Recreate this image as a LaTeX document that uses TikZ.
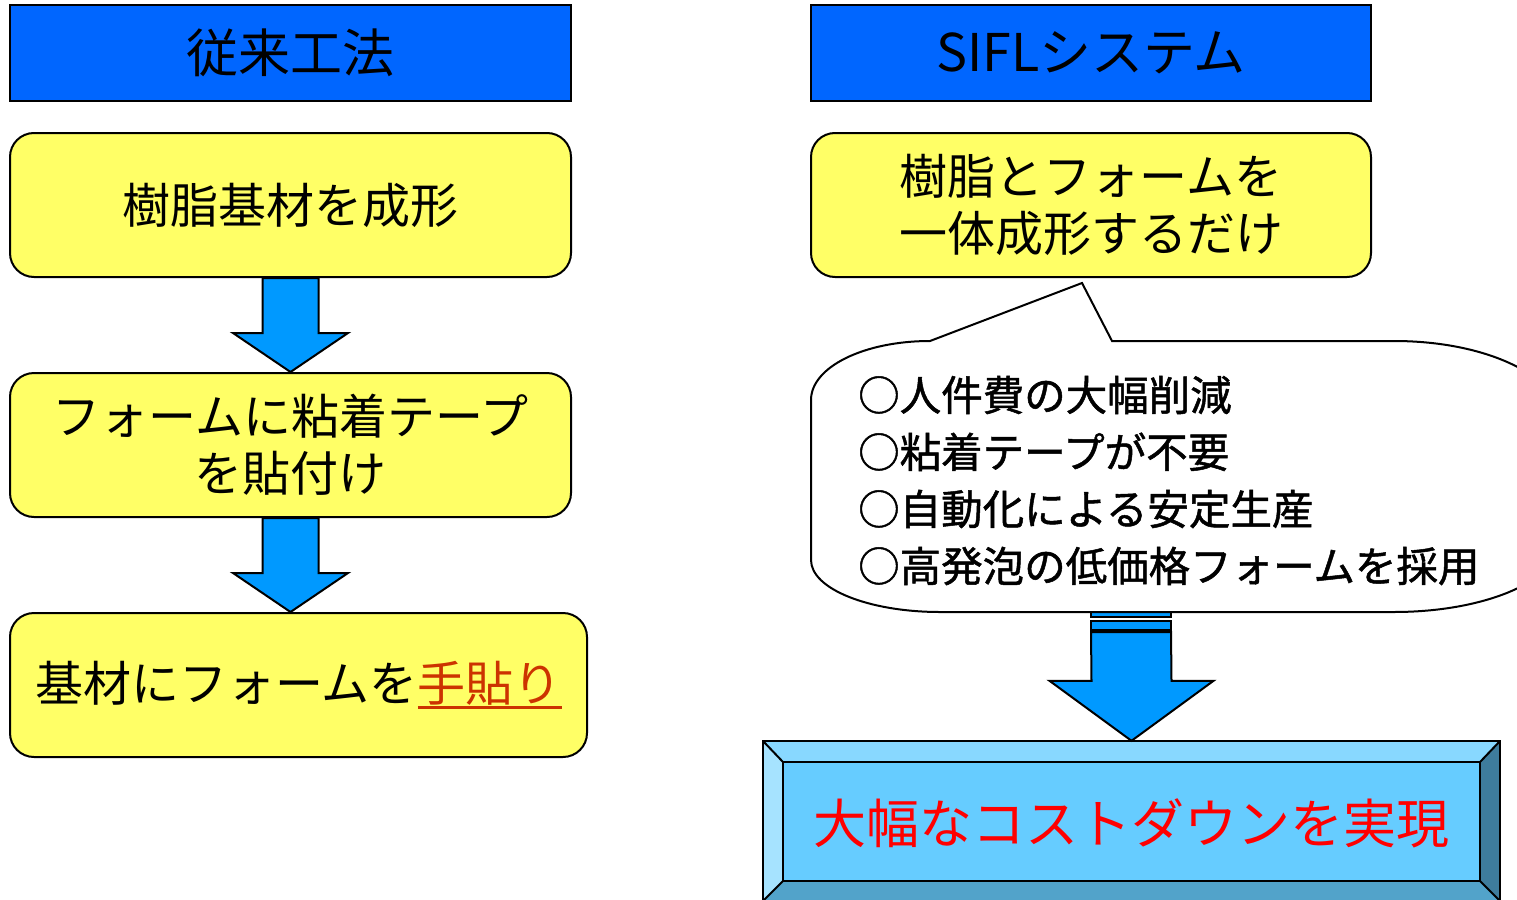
\documentclass[tikz,border=0pt]{standalone}
\usepackage{fontspec}
\setmainfont{Noto Sans CJK JP}
\newfontfamily\bubfont[FakeBold=1.2]{Noto Sans CJK JP}
\usetikzlibrary{calc}
\definecolor{hdrblue}{HTML}{0066FF}
\definecolor{boxyel}{HTML}{FFFF66}
\definecolor{arrblue}{HTML}{0099FF}
\definecolor{ulred}{HTML}{CC3300}
\definecolor{bevmid}{HTML}{66CCFF}
\definecolor{bevtop}{HTML}{88D8FF}
\definecolor{bevleft}{HTML}{A6E3FF}
\definecolor{bevright}{HTML}{3E7C9C}
\definecolor{bevbot}{HTML}{52A3CA}
\definecolor{costred}{HTML}{FF0000}
\newcommand\redul[1]{\setbox0\hbox{#1}\rlap{\rule[-0.16em]{\wd0}{0.065em}}\box0}
\begin{document}
\begin{tikzpicture}[x=1pt,y=-1pt,
  hdr/.style={draw=black, line width=2pt, fill=hdrblue, minimum height=96pt, inner sep=0pt, font=\fontsize{52}{60}\selectfont},
  ybox/.style={draw=black, line width=2pt, fill=boxyel, rounded corners=24pt, minimum height=144pt, inner sep=0pt, align=center, font=\fontsize{48}{57}\selectfont},
  barrow/.style={draw=black, line width=2pt, fill=arrblue, line join=miter},
  stripe/.style={draw=black, line width=1.5pt, fill=arrblue},
  bubble/.style={draw=black, line width=2pt, fill=white, line join=miter},
  bevline/.style={draw=black, line width=2pt}]
\useasboundingbox (0,0) rectangle (1517,899);
\begin{scope}
\clip (0,0) rectangle (1517,899);
\node[hdr, minimum width=561pt] (h1) at (290.5,53) {従来工法};
\node[hdr, minimum width=560pt] (h2) at (1091,53) {SIFLシステム};
\node[ybox, minimum width=561pt] (b1) at (290.5,205) {樹脂基材を成形};
\node[ybox, minimum width=561pt] (b2) at (290.5,445) {フォームに粘着テープ\\を貼付け};
\node[ybox, minimum width=577pt] (b3) at (298.5,685) {基材にフォームを{\color{ulred}\redul{手貼り}}};
\node[ybox, minimum width=560pt] (r1) at (1091,205) {樹脂とフォームを\\一体成形するだけ};
% left arrows
\draw[barrow] ($(b1.south)+(-28,0)$) -- ($(b1.south)+(28,0)$) -- ($(b2.north)+(28,-39)$) -- ($(b2.north)+(57.5,-39)$) -- (b2.north) -- ($(b2.north)+(-57.5,-39)$) -- ($(b2.north)+(-28,-39)$) -- cycle;
\draw[barrow] ($(b2.south)+(-28,0)$) -- ($(b2.south)+(28,0)$) -- ($(b3.north)+(20,-39)$) -- ($(b3.north)+(49.5,-39)$) -- ($(b3.north)+(-8,0)$) -- ($(b3.north)+(-65.5,-39)$) -- ($(b3.north)+(-36,-39)$) -- cycle;
% cost box
\node[fill=bevmid, minimum width=737pt, minimum height=160pt, inner sep=0pt, text=costred, font=\fontsize{53}{60}\selectfont, text depth=0pt] (cost) at (1131.5,821) {大幅なコストダウンを実現};
\fill[bevtop] (cost.north west) -- (cost.north east) -- ($(cost.north east)+(-20,21)$) -- ($(cost.north west)+(20,21)$) -- cycle;
\fill[bevleft] (cost.north west) -- ($(cost.north west)+(20,21)$) -- ($(cost.south west)+(20,-20)$) -- (cost.south west) -- cycle;
\fill[bevright] (cost.north east) -- ($(cost.north east)+(-20,21)$) -- ($(cost.south east)+(-20,-20)$) -- (cost.south east) -- cycle;
\fill[bevbot] (cost.south west) -- ($(cost.south west)+(20,-20)$) -- ($(cost.south east)+(-20,-20)$) -- (cost.south east) -- cycle;
\draw[bevline] (cost.north west) rectangle (cost.south east);
\draw[bevline] ($(cost.north west)+(20,21)$) rectangle ($(cost.south east)+(-20,-20)$);
\draw[bevline] (cost.north west) -- ($(cost.north west)+(20,21)$)
  (cost.north east) -- ($(cost.north east)+(-20,21)$)
  (cost.south west) -- ($(cost.south west)+(20,-20)$)
  (cost.south east) -- ($(cost.south east)+(-20,-20)$);
% striped arrow from bubble
\coordinate (bub) at (1131,612);
\draw[barrow] ($(bub)+(-40,20)$) -- ($(bub)+(40,20)$) -- ($(cost.north)+(40,-60)$) -- ($(cost.north)+(82,-60)$) -- (cost.north) -- ($(cost.north)+(-82,-60)$) -- ($(cost.north)+(-40,-60)$) -- cycle;
\draw[stripe] ($(bub)+(-40,0)$) rectangle ($(bub)+(40,5)$);
\draw[stripe] ($(bub)+(-40,9)$) rectangle ($(bub)+(40,18)$);
% bubble
\coordinate (pl) at (930,341);
\coordinate (pa) at (1082,283);
\coordinate (pr) at (1112,341);
\draw[bubble] (pl) -- (pa) -- (pr) -- (1394,341) .. controls (1486,341) and (1560,376) .. (1560,420) -- (1560,540) .. controls (1560,580) and (1486,612) .. (1394,612) -- (940,612) .. controls (869,612) and (811,589) .. (811,560) -- (811,400) .. controls (811,367) and (864,341) .. (pl) -- cycle;
\node[anchor=west, align=left, font=\bubfont\fontsize{41.5}{57}\selectfont, inner sep=0pt] (bt) at (858,480.5) {○人件費の大幅削減\\○粘着テープが不要\\○自動化による安定生産\\○高発泡の低価格フォームを採用};
\end{scope}
\end{tikzpicture}
\end{document}
